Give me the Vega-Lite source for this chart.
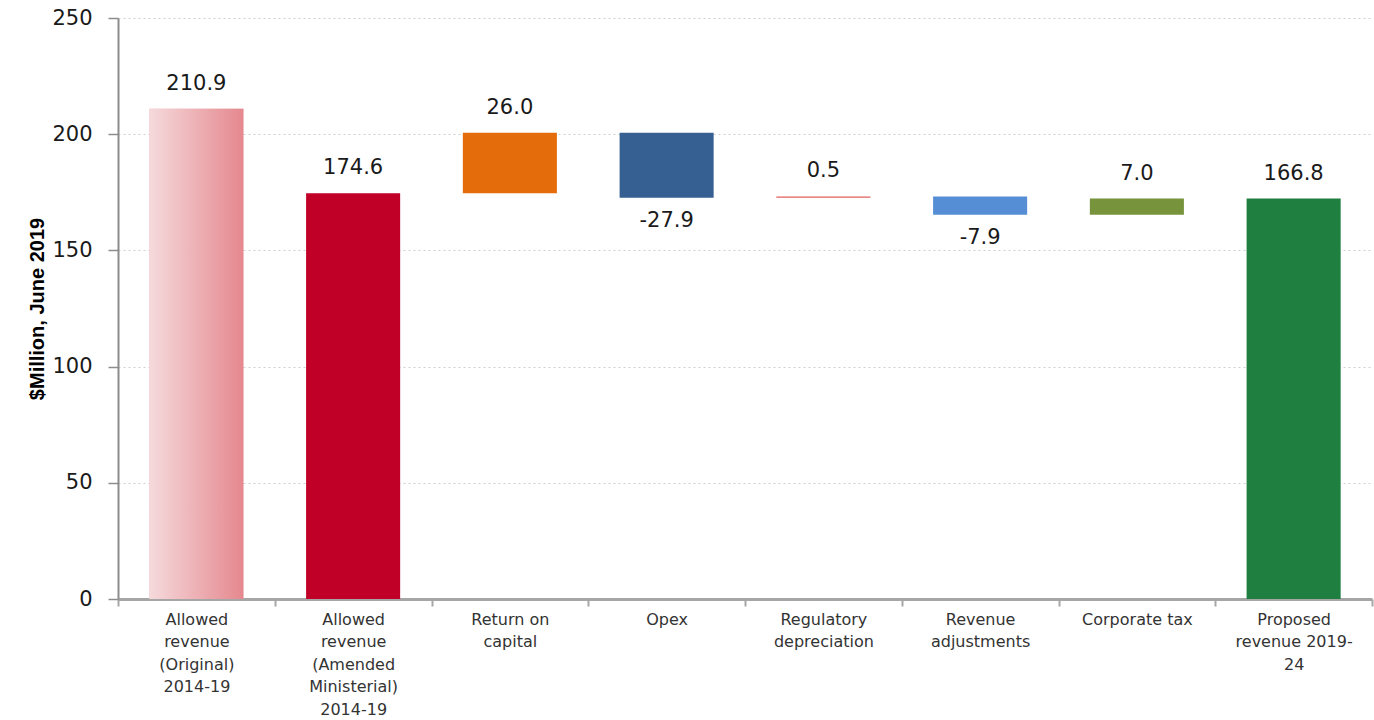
{
  "$schema": "https://vega.github.io/schema/vega-lite/v6.json",
  "width": 1254,
  "height": 581,
  "autosize": {"type": "none"},
  "padding": {"left": 118, "top": 18, "right": 2, "bottom": 121},
  "background": "white",
  "data": {
    "values": [
      {"cat": "Allowed revenue (Original) 2014-19", "start": 0, "end": 210.9, "label": "210.9"},
      {"cat": "Allowed revenue (Amended Ministerial) 2014-19", "start": 0, "end": 174.6, "label": "174.6"},
      {"cat": "Return on capital", "start": 174.6, "end": 200.6, "label": "26.0"},
      {"cat": "Opex", "start": 200.6, "end": 172.7, "label": "-27.9"},
      {"cat": "Regulatory depreciation", "start": 172.7, "end": 173.2, "label": "0.5"},
      {"cat": "Revenue adjustments", "start": 173.2, "end": 165.3, "label": "-7.9"},
      {"cat": "Corporate tax", "start": 165.3, "end": 172.3, "label": "7.0"},
      {"cat": "Proposed revenue 2019-24", "start": 0, "end": 172.3, "label": "166.8"}
    ]
  },
  "encoding": {
    "x": {
      "field": "cat",
      "type": "nominal",
      "sort": null,
      "scale": {"paddingInner": 0, "paddingOuter": 0},
      "axis": {
        "title": null,
        "labelAngle": 0,
        "labelExpr": "{'Allowed revenue (Original) 2014-19': ['Allowed', 'revenue', '(Original)', '2014-19'], 'Allowed revenue (Amended Ministerial) 2014-19': ['Allowed', 'revenue', '(Amended', 'Ministerial)', '2014-19'], 'Return on capital': ['Return on', 'capital'], 'Opex': ['Opex'], 'Regulatory depreciation': ['Regulatory', 'depreciation'], 'Revenue adjustments': ['Revenue', 'adjustments'], 'Corporate tax': ['Corporate tax'], 'Proposed revenue 2019-24': ['Proposed', 'revenue 2019-', '24']}[datum.value]",
        "labelFont": "DejaVu Sans",
        "labelFontSize": 16,
        "labelColor": "#333333",
        "labelLineHeight": 22.6,
        "labelLimit": 220,
        "labelPadding": 5,
        "domainColor": "#A6A6A6",
        "domainWidth": 3,
        "tickColor": "#A6A6A6",
        "tickSize": 7,
        "tickWidth": 2,
        "tickBand": "extent",
        "grid": false
      }
    }
  },
  "layer": [
    {
      "mark": {"type": "bar", "width": {"band": 0.6}},
      "encoding": {
        "y": {
          "field": "start",
          "type": "quantitative",
          "scale": {"domain": [0, 250], "nice": false},
          "axis": {
            "values": [0, 50, 100, 150, 200, 250],
            "grid": true,
            "gridDash": [2, 3],
            "gridColor": "#CFCFCF",
            "domainColor": "#8C8C8C",
            "domainWidth": 2,
            "tickColor": "#8C8C8C",
            "tickSize": 10,
            "tickWidth": 1.5,
            "labelFont": "DejaVu Sans",
            "labelFontSize": 21,
            "labelColor": "#1a1a1a",
            "labelPadding": 16,
            "title": "$Million, June 2019",
            "titleFont": "Liberation Sans",
            "titleFontSize": 20,
            "titleFontWeight": "bold",
            "titleColor": "#000000",
            "titlePadding": 4
          }
        },
        "y2": {"field": "end"},
        "color": {
          "field": "cat",
          "type": "nominal",
          "sort": null,
          "scale": {
            "range": ["#ECB3B8", "#C00027", "#E46C0A", "#366092", "#E05C5C", "#558ED5", "#77933C", "#1E7F40"]
          },
          "legend": null
        }
      }
    },
    {
      "transform": [{"filter": "datum.cat === 'Allowed revenue (Original) 2014-19'"}],
      "mark": {
        "type": "bar",
        "width": {"band": 0.6},
        "color": {
          "gradient": "linear",
          "x1": 0, "y1": 0, "x2": 1, "y2": 0,
          "stops": [
            {"offset": 0, "color": "#F5DADC"},
            {"offset": 1, "color": "#E5888E"}
          ]
        }
      },
      "encoding": {
        "y": {"field": "start", "type": "quantitative"},
        "y2": {"field": "end"}
      }
    },
    {
      "transform": [{"filter": "datum.end >= datum.start"}],
      "mark": {"type": "text", "baseline": "bottom", "dy": -15, "font": "DejaVu Sans", "fontSize": 21, "color": "#1a1a1a"},
      "encoding": {
        "y": {"field": "end", "type": "quantitative"},
        "text": {"field": "label"}
      }
    },
    {
      "transform": [{"filter": "datum.end < datum.start"}],
      "mark": {"type": "text", "baseline": "top", "dy": 12, "font": "DejaVu Sans", "fontSize": 21, "color": "#1a1a1a"},
      "encoding": {
        "y": {"field": "end", "type": "quantitative"},
        "text": {"field": "label"}
      }
    }
  ],
  "config": {"view": {"stroke": null}}
}
